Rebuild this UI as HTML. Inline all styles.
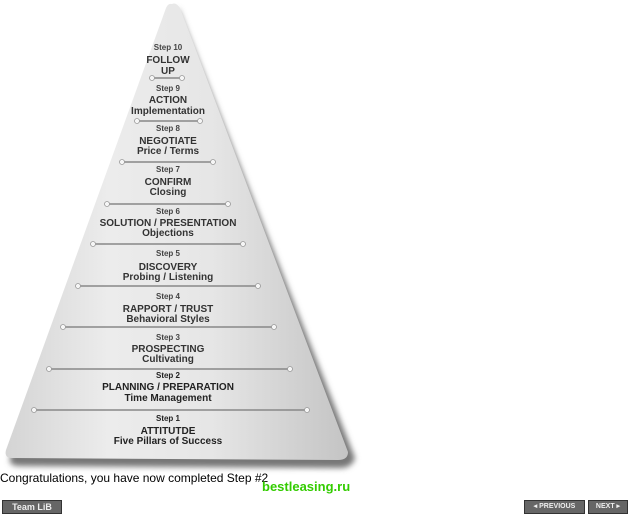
<!DOCTYPE html>
<html><head><style>
body{margin:0;width:628px;height:515px;background:#fff;position:relative;overflow:hidden;font-family:"Liberation Sans",sans-serif}
.t{position:absolute;left:68px;width:200px;text-align:center;color:#333;font-weight:bold;white-space:nowrap;line-height:1}
.s{font-size:8px;color:#444}
.b{font-size:10px}
.btn{position:absolute;background:#666;border:1px solid #333;color:#eee;font-weight:bold;font-size:9px;text-align:center;line-height:12px;height:12px}
</style></head><body>
<svg width="628" height="515" style="position:absolute;left:0;top:0">
<defs>
<linearGradient id="g" x1="0" x2="1" y1="0" y2="0">
<stop offset="0" stop-color="#d4d4d4"/><stop offset="0.3" stop-color="#ececec"/><stop offset="0.6" stop-color="#e6e6e6"/><stop offset="1" stop-color="#c4c4c4"/></linearGradient>
<filter id="bl"><feGaussianBlur stdDeviation="3"/></filter>
</defs>
<path d="M178,8 L355,458 Q352,468 340,468 L20,466 Q8,466 10,458 Z" fill="#777" filter="url(#bl)"/>
<path d="M172,4 Q176,2 180,8 L348,452 Q348,460 338,460 L12,458 Q4,458 6,450 L166,8 Q168,3 172,4 Z" fill="url(#g)"/>
<g stroke="#888" stroke-width="1.5" fill="#f4f4f4">
<line x1="152" y1="78" x2="182" y2="78"/><line x1="137" y1="121" x2="200" y2="121"/>
<line x1="122" y1="162" x2="213" y2="162"/><line x1="107" y1="204" x2="228" y2="204"/>
<line x1="93" y1="244" x2="243" y2="244"/><line x1="78" y1="286" x2="258" y2="286"/>
<line x1="63" y1="327" x2="274" y2="327"/><line x1="49" y1="369" x2="290" y2="369"/>
<line x1="34" y1="410" x2="307" y2="410"/>
</g>
<g fill="#f6f6f6" stroke="#999" stroke-width="0.8">
<circle cx="152" cy="78" r="2.5"/><circle cx="182" cy="78" r="2.5"/><circle cx="137" cy="121" r="2.5"/><circle cx="200" cy="121" r="2.5"/>
<circle cx="122" cy="162" r="2.5"/><circle cx="213" cy="162" r="2.5"/><circle cx="107" cy="204" r="2.5"/><circle cx="228" cy="204" r="2.5"/>
<circle cx="93" cy="244" r="2.5"/><circle cx="243" cy="244" r="2.5"/><circle cx="78" cy="286" r="2.5"/><circle cx="258" cy="286" r="2.5"/>
<circle cx="63" cy="327" r="2.5"/><circle cx="274" cy="327" r="2.5"/><circle cx="49" cy="369" r="2.5"/><circle cx="290" cy="369" r="2.5"/>
<circle cx="34" cy="410" r="2.5"/><circle cx="307" cy="410" r="2.5"/>
</g>
</svg>
<div class="t s" style="top:44px">Step 10</div><div class="t b" style="top:56px">FOLLOW</div><div class="t b" style="top:67px">UP</div>
<div class="t s" style="top:85px">Step 9</div><div class="t b" style="top:96px">ACTION</div><div class="t b" style="top:107px">Implementation</div>
<div class="t s" style="top:125px">Step 8</div><div class="t b" style="top:137px">NEGOTIATE</div><div class="t b" style="top:147px">Price / Terms</div>
<div class="t s" style="top:166px">Step 7</div><div class="t b" style="top:178px">CONFIRM</div><div class="t b" style="top:188px">Closing</div>
<div class="t s" style="top:208px">Step 6</div><div class="t b" style="top:219px">SOLUTION / PRESENTATION</div><div class="t b" style="top:229px">Objections</div>
<div class="t s" style="top:250px">Step 5</div><div class="t b" style="top:263px">DISCOVERY</div><div class="t b" style="top:273px">Probing / Listening</div>
<div class="t s" style="top:293px">Step 4</div><div class="t b" style="top:305px">RAPPORT / TRUST</div><div class="t b" style="top:315px">Behavioral Styles</div>
<div class="t s" style="top:334px">Step 3</div><div class="t b" style="top:345px">PROSPECTING</div><div class="t b" style="top:355px">Cultivating</div>
<div class="t s" style="top:372px;color:#222">Step 2</div><div class="t b" style="top:383px;color:#222">PLANNING / PREPARATION</div><div class="t b" style="top:394px;color:#222">Time Management</div>
<div class="t s" style="top:415px;color:#222">Step 1</div><div class="t b" style="top:427px;color:#222">ATTITUTDE</div><div class="t b" style="top:437px;color:#222">Five Pillars of Success</div>
<div style="position:absolute;left:0;top:471px;font-size:12px;color:#000">Congratulations, you have now completed Step #2</div>
<div style="position:absolute;left:262px;top:479px;font-size:13px;font-weight:bold;color:#33cc00">bestleasing.ru</div>
<div class="btn" style="left:2px;top:500px;width:58px">Team LiB</div>
<div class="btn" style="left:524px;top:500px;width:59px;font-size:7px">◂ PREVIOUS</div>
<div class="btn" style="left:588px;top:500px;width:38px;font-size:7px">NEXT ▸</div>
</body></html>
